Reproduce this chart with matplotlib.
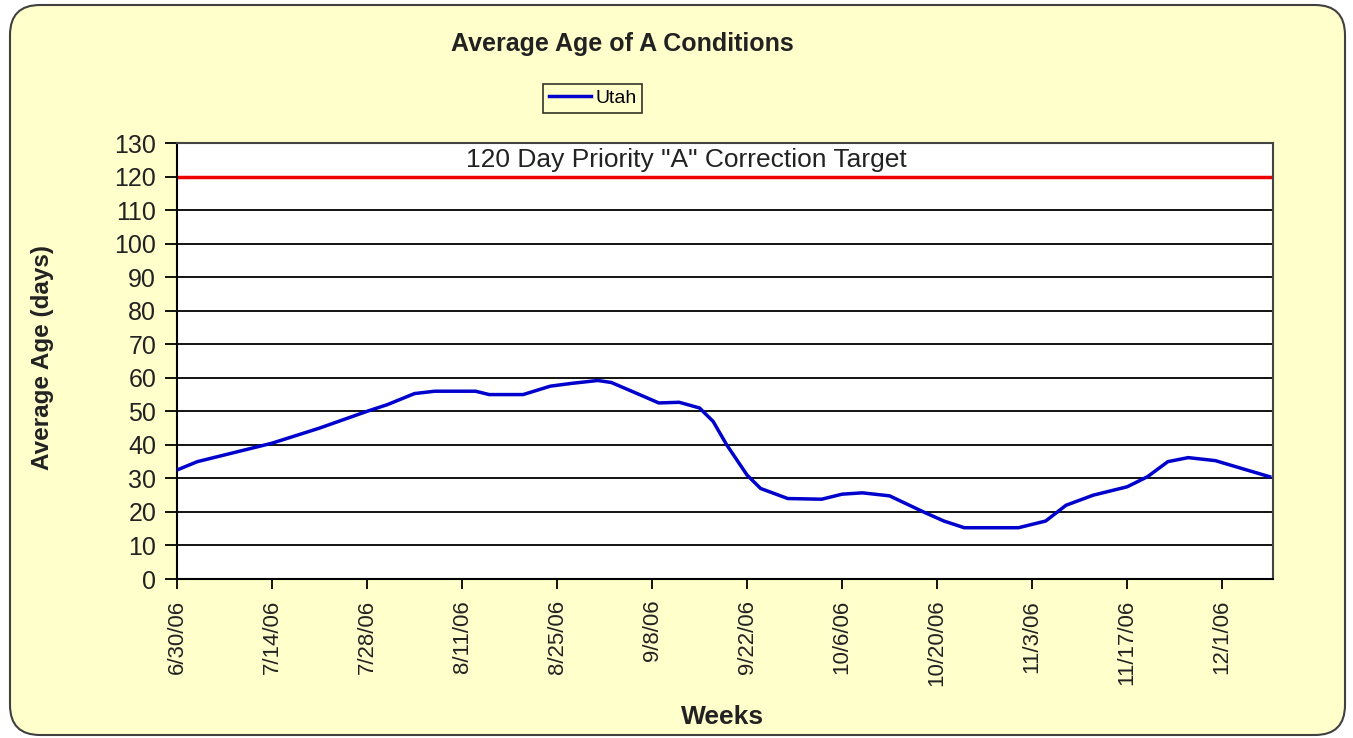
import datetime as dt
import matplotlib
matplotlib.use("Agg")
import matplotlib.pyplot as plt
from matplotlib.patches import FancyBboxPatch

# readings (date, average age in days)
dates = ["6/30/06", "7/3/06", "7/7/06", "7/14/06", "7/21/06", "7/28/06", "7/31/06",
         "8/4/06", "8/7/06", "8/13/06", "8/15/06", "8/20/06", "8/24/06", "8/27/06",
         "8/31/06", "9/2/06", "9/5/06", "9/9/06", "9/12/06", "9/15/06", "9/17/06",
         "9/19/06", "9/22/06", "9/24/06", "9/28/06", "10/3/06", "10/6/06", "10/9/06",
         "10/13/06", "10/18/06", "10/21/06", "10/24/06", "11/1/06", "11/5/06",
         "11/8/06", "11/12/06", "11/17/06", "11/20/06", "11/23/06", "11/26/06",
         "11/30/06", "12/8/06"]
utah = [32.5, 35, 37, 40.5, 45, 50, 52,
        55.3, 56, 56, 55, 55, 57.5, 58.3,
        59.2, 58.6, 56, 52.5, 52.7, 51, 47,
        40, 31, 27, 24, 23.8, 25.3, 25.7,
        24.8, 20, 17.3, 15.3, 15.3, 17.3,
        22, 25, 27.5, 30.5, 35, 36.2,
        35.3, 30.5]
target = 120
tick_dates = ["6/30/06", "7/14/06", "7/28/06", "8/11/06", "8/25/06", "9/8/06",
              "9/22/06", "10/6/06", "10/20/06", "11/3/06", "11/17/06", "12/1/06"]
y_ticks = list(range(0, 131, 10))


def parse(s):
    return dt.datetime.strptime(s, "%m/%d/%y")


x = [parse(d) for d in dates]
xt = [parse(d) for d in tick_dates]

plt.rcParams['font.family'] = ['Liberation Sans', 'DejaVu Sans']

fig = plt.figure(figsize=(13.53, 7.38), dpi=100)
fig.patch.set_facecolor("white")

# rounded yellow chart-area background
bg = FancyBboxPatch((0.10, 0.03), 13.35, 7.30,
                    boxstyle="round,pad=0,rounding_size=0.3",
                    transform=fig.dpi_scale_trans,
                    facecolor="#FFFFCC", edgecolor="#404040", linewidth=1.5,
                    zorder=-10)
fig.patches.append(bg)

ax = fig.add_axes([0.1308, 0.2154, 0.8101, 0.5908])
ax.set_zorder(1)
ax.set_facecolor("white")

for v in y_ticks[1:]:
    ax.axhline(v, color="black", lw=1.3, zorder=1)

ax.axhline(target, color="#EE0000", lw=2.5, zorder=2)
line, = ax.plot(x, utah, color="#0000CC", lw=2.5, label="Utah", zorder=3)

ax.text(0.465, 0.961, '120 Day Priority "A" Correction Target',
        transform=ax.transAxes, ha="center", va="center", fontsize=19,
        color="#222222")

ax.set_xlim(parse("6/30/06"), parse("12/8/06") + dt.timedelta(hours=12))
ax.set_ylim(0, 130)
ax.set_yticks(y_ticks)
ax.set_xticks(xt)
ax.set_xticklabels(tick_dates, rotation=90, fontsize=16, color="#222222")
ax.tick_params(axis="y", labelsize=18, labelcolor="#222222", direction="out",
               length=9, width=1.3, pad=6)
ax.tick_params(axis="x", direction="out", length=7, width=1.3, pad=8)

for s in ["left", "bottom"]:
    ax.spines[s].set_color("black")
    ax.spines[s].set_linewidth(1.5)
for s in ["top", "right"]:
    ax.spines[s].set_color("#444444")
    ax.spines[s].set_linewidth(1.5)

ax.set_xlabel("Weeks", fontsize=19, fontweight="bold", color="#222222", va="center")
ax.xaxis.set_label_coords(0.498, -0.3165)
ax.set_ylabel("Average Age (days)", fontsize=17.5, fontweight="bold",
              color="#222222", va="center")
ax.yaxis.set_label_coords(-0.123, 0.509)

fig.text(0.46, 0.94, "Average Age of A Conditions", ha="center", va="center",
         fontsize=18, fontweight="bold", color="#222222")

leg = fig.legend(handles=[line], loc="center", bbox_to_anchor=(0.438, 0.867),
                 fontsize=14, frameon=True, fancybox=False, handlelength=2.2,
                 handletextpad=0.2, borderpad=0.3, borderaxespad=0)
leg.get_frame().set_edgecolor("black")
leg.get_frame().set_facecolor("#FFFFCC")
leg.get_frame().set_linewidth(1.2)

fig.savefig("out.png", dpi=100, facecolor=fig.get_facecolor())
